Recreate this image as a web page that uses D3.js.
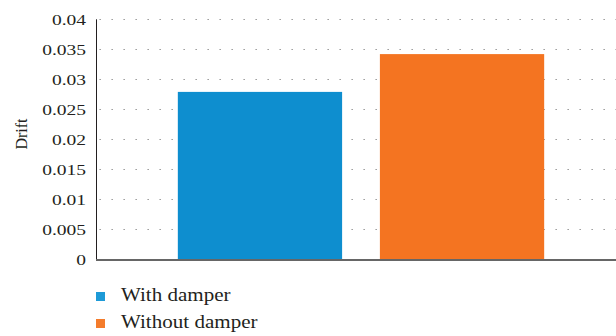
<!DOCTYPE html>
<html>
<head>
<meta charset="utf-8">
<script src="https://cdn.jsdelivr.net/npm/d3@7"></script>
<style>
  body { margin: 0; background: #fff; }
  text { font-family: "Liberation Serif", "Times New Roman", serif; fill: #231f20; }
</style>
</head>
<body>
<svg width="616" height="336"></svg>
<script>
// data
var categories = ["With damper", "Without damper"];
var drift = [0.0279, 0.0342];
var yTicks = [0, 0.005, 0.01, 0.015, 0.02, 0.025, 0.03, 0.035, 0.04];
var colors = ["#0e8ecf", "#f47421"];
var legendColors = ["#1d9ad7", "#f47c2c"];

var svg = d3.select("svg");

// note: `top` is taken by window.top, so use other names
var plotLeft = 97, plotRight = 625, plotTop = 19.3, plotBottom = 259.3;

var y = d3.scaleLinear()
    .domain([0, 0.04])
    .range([plotBottom, plotTop]);

var x = d3.scaleBand()
    .domain(categories)
    .range([plotLeft, plotRight])
    .paddingInner(0.187)
    .paddingOuter(0.4);

// dotted grid lines (behind the bars)
svg.append("g").selectAll("line")
    .data(yTicks.filter(function(d) { return d > 0; }))
    .enter()
    .append("line")
    .attr("x1", 99.5)
    .attr("x2", 616)
    .attr("y1", function(d) { return Math.round(y(d)) + 0.5; })
    .attr("y2", function(d) { return Math.round(y(d)) + 0.5; })
    .attr("stroke", "#8a8a8a")
    .attr("stroke-width", 1.2)
    .attr("stroke-dasharray", "1.3,10.7");

// bars
svg.append("g").selectAll("rect")
    .data(drift)
    .enter()
    .append("rect")
    .attr("x", function(d, i) { return x(categories[i]); })
    .attr("width", x.bandwidth())
    .attr("y", function(d) { return y(d); })
    .attr("height", function(d) { return y(0) - y(d); })
    .attr("fill", function(d, i) { return colors[i]; });

// y axis line
svg.append("line")
    .attr("x1", 96.5).attr("x2", 96.5)
    .attr("y1", plotTop).attr("y2", plotBottom + 1)
    .attr("stroke", "#231f20")
    .attr("stroke-width", 1);

// baseline
svg.append("line")
    .attr("x1", 96).attr("x2", 616)
    .attr("y1", plotBottom + 0.8).attr("y2", plotBottom + 0.8)
    .attr("stroke", "#666")
    .attr("stroke-width", 2);

// tick labels (the font in the picture is wide, so stretch a bit)
svg.append("g").selectAll("text")
    .data(yTicks)
    .enter()
    .append("text")
    .attr("transform", function(d) { return "translate(86," + y(d) + ") scale(1.3,1)"; })
    .attr("text-anchor", "end")
    .attr("dy", "0.35em")
    .style("font-size", "15px")
    .text(function(d) { return String(+d.toFixed(3)); });

// y axis title
svg.append("text")
    .attr("transform", "translate(27,134) rotate(-90)")
    .attr("text-anchor", "middle")
    .style("font-size", "16px")
    .text("Drift");

// legend
var legend = svg.append("g").selectAll("g")
    .data(categories)
    .enter()
    .append("g")
    .attr("transform", function(d, i) { return "translate(96," + (292 + i * 27) + ")"; });

legend.append("rect")
    .attr("width", 9)
    .attr("height", 9)
    .attr("fill", function(d, i) { return legendColors[i]; });

legend.append("text")
    .attr("transform", "translate(25,8.5) scale(1.17,1)")
    .style("font-size", "18px")
    .text(function(d) { return d; });
</script>
</body>
</html>
